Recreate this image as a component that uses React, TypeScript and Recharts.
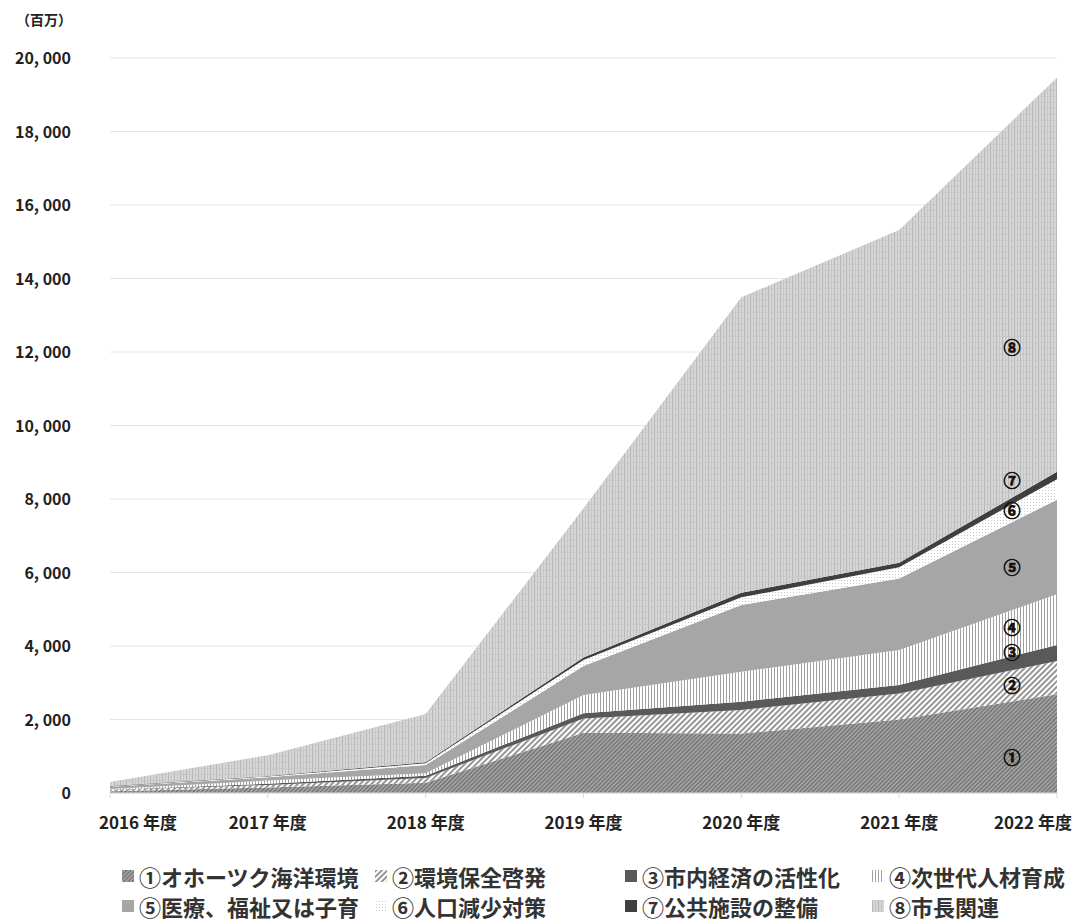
import { AreaChart, Area, XAxis, YAxis, CartesianGrid, ReferenceDot } from 'recharts';

const FONT = '"Noto Sans CJK JP", "Noto Sans", sans-serif';

// data (百万)
const years = ['2016 年度', '2017 年度', '2018 年度', '2019 年度', '2020 年度', '2021 年度', '2022 年度'];
const okhotsk = [50, 150, 280, 1640, 1620, 2000, 2690];
const envEdu = [30, 70, 130, 390, 640, 710, 900];
const economy = [10, 30, 60, 140, 225, 230, 440];
const nextGen = [20, 90, 70, 495, 815, 950, 1380];
const welfare = [60, 90, 220, 790, 1815, 1950, 2570];
const population = [10, 20, 50, 165, 210, 300, 560];
const facilities = [10, 10, 30, 70, 125, 127, 200];
const mayor = [110, 570, 1310, 4060, 8040, 9050, 10730];

const yTicks = [0, 2000, 4000, 6000, 8000, 10000, 12000, 14000, 16000, 18000, 20000];

const seriesNames = [
  '①オホーツク海洋環境',
  '②環境保全啓発',
  '③市内経済の活性化',
  '④次世代人材育成',
  '⑤医療、福祉又は子育',
  '⑥人口減少対策',
  '⑦公共施設の整備',
  '⑧市長関連',
];
const seriesFills = ['url(#p1)', 'url(#p2)', '#595959', 'url(#p4)', '#a6a6a6', 'url(#p6)', '#3f3f3f', 'url(#p8)'];

// in-chart marks placed near the right edge
const markLabels = ['①', '②', '③', '④', '⑤', '⑥', '⑦', '⑧'];
const markValues = [950, 2910, 3800, 4490, 6120, 7670, 8490, 12110];

const data = years.map((year, i) => ({
  year,
  s1: okhotsk[i],
  s2: envEdu[i],
  s3: economy[i],
  s4: nextGen[i],
  s5: welfare[i],
  s6: population[i],
  s7: facilities[i],
  s8: mayor[i],
}));

const keys = ['s1', 's2', 's3', 's4', 's5', 's6', 's7', 's8'];

const fmt = (v: number) => v.toLocaleString('en-US').replace(',', ', ');

const XTick = (props: any) => {
  const { x, y, payload, index } = props;
  const last = index === years.length - 1;
  const anchor = index === 0 ? 'start' : last ? 'end' : 'middle';
  const dx = index === 0 ? -11 : last ? 15 : 0;
  return (
    <text x={x + dx} y={y} dy={29} textAnchor={anchor} fontSize={17} fontWeight={700} fill="#222" fontFamily={FONT}>
      {payload.value}
    </text>
  );
};

const YTick = (props: any) => {
  const { x, y, payload } = props;
  return (
    <text x={x} y={y} dy={6} textAnchor="end" fontSize={16} fontWeight={700} fill="#222" fontFamily={FONT}>
      {fmt(payload.value)}
    </text>
  );
};

function Patterns() {
  return (
    <defs>
      <pattern id="p1" width="3" height="3" patternUnits="userSpaceOnUse" patternTransform="rotate(45)">
        <rect width="3" height="3" fill="#a0a0a0" />
        <line x1="0.5" y1="0" x2="0.5" y2="3" stroke="#6a6a6a" strokeWidth="1" />
      </pattern>
      <pattern id="p2" width="4" height="4" patternUnits="userSpaceOnUse" patternTransform="rotate(45)">
        <rect width="4" height="4" fill="#ffffff" />
        <line x1="1" y1="0" x2="1" y2="4" stroke="#505050" strokeWidth="1.2" />
      </pattern>
      <pattern id="p4" width="3" height="3" patternUnits="userSpaceOnUse">
        <rect width="3" height="3" fill="#ffffff" />
        <line x1="0.5" y1="0" x2="0.5" y2="3" stroke="#a0a0a0" strokeWidth="1" />
      </pattern>
      <pattern id="p6" width="3" height="3" patternUnits="userSpaceOnUse">
        <rect width="3" height="3" fill="#ffffff" />
        <rect x="1" y="1" width="1" height="1" fill="#c8c8c8" />
      </pattern>
      <pattern id="p8" width="6" height="6" patternUnits="userSpaceOnUse">
        <rect width="6" height="6" fill="#d6d6d6" />
        <line x1="0.5" y1="0" x2="0.5" y2="6" stroke="#b6b6b6" strokeWidth="1" />
        <line x1="3.5" y1="0" x2="3.5" y2="6" stroke="#c6c6c6" strokeWidth="1" />
        <line x1="0" y1="0.5" x2="6" y2="0.5" stroke="#c8c8c8" strokeWidth="1" />
      </pattern>
    </defs>
  );
}

export default function App() {
  const legendCols = [122, 375, 625, 872];
  const legendRows = [865, 895];

  return (
    <div style={{ position: 'absolute', left: 0, top: 0, width: 1073, height: 920, background: '#fff', fontFamily: FONT }}>
      <div style={{ position: 'absolute', left: 16, top: 9, fontSize: 14, fontWeight: 700, color: '#222' }}>（百万）</div>

      <AreaChart width={1073} height={840} data={data} margin={{ top: 58, right: 16, bottom: 7, left: 10 }}>
        <Patterns />
        <CartesianGrid vertical={false} stroke="#e6e6e6" />
        <XAxis
          dataKey="year"
          height={40}
          axisLine={{ stroke: '#d9d9d9' }}
          tickLine={{ stroke: '#d9d9d9' }}
          tickSize={5}
          tick={<XTick />}
          interval={0}
        />
        <YAxis
          width={100}
          domain={[0, 20000]}
          ticks={yTicks}
          axisLine={false}
          tickLine={false}
          tickSize={0}
          tickMargin={39}
          tick={<YTick />}
        />
        {keys.map((k, i) => (
          <Area
            key={k}
            type="linear"
            dataKey={k}
            name={seriesNames[i]}
            stackId="1"
            stroke="none"
            fill={seriesFills[i]}
            fillOpacity={1}
            dot={false}
            activeDot={false}
            isAnimationActive={false}
          />
        ))}
        {markLabels.map((m, i) => (
          <ReferenceDot
            key={m}
            x={years[years.length - 1]}
            y={markValues[i]}
            r={1}
            ifOverflow="visible"
            shape={(p: any) => (
              <text
                x={p.cx - 45}
                y={p.cy}
                dy={6}
                textAnchor="middle"
                fontSize={17}
                fontWeight={700}
                fill="#111"
                stroke="#111"
                strokeWidth={0.7}
                fontFamily={FONT}
              >
                {m}
              </text>
            )}
          />
        ))}
      </AreaChart>

      {seriesNames.map((name, i) => (
        <div
          key={name}
          style={{
            position: 'absolute',
            left: legendCols[i % 4],
            top: legendRows[Math.floor(i / 4)],
            display: 'flex',
            alignItems: 'center',
            fontSize: 22,
            fontWeight: 700,
            color: '#333',
            whiteSpace: 'nowrap',
            lineHeight: '22px',
            height: 22,
          }}
        >
          <svg width={12} height={12} style={{ marginRight: 5 }}>
            <rect width={12} height={12} fill={seriesFills[i]} />
          </svg>
          {name}
        </div>
      ))}
    </div>
  );
}
